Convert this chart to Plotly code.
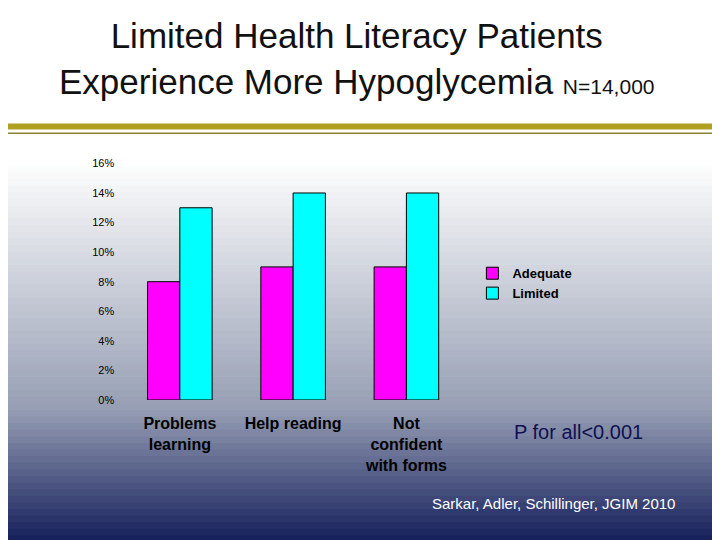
import plotly.graph_objects as go

categories = ["<b>Problems<br>learning</b>", "<b>Help reading</b>", "<b>Not<br>confident<br>with forms</b>"]
adequate = [8, 9, 9]
limited = [13, 14, 14]

fig = go.Figure()
fig.add_bar(x=categories, y=adequate, name="<b>Adequate</b>", marker=dict(color="#ff00ff", line=dict(color="black", width=1)))
fig.add_bar(x=categories, y=limited, name="<b>Limited</b>", marker=dict(color="#00ffff", line=dict(color="black", width=1)))

def lerp(a, b, t):
    return tuple(int(a[i] + (b[i] - a[i]) * t) for i in range(3))

shapes = []
N = 80
top = (255, 255, 255)
mid = (150, 158, 180)
bot = (20, 30, 90)
for i in range(N):
    y0 = i / N
    y1 = (i + 1) / N
    yc = 1 - (y0 + y1) / 2
    if yc < 0.28:
        c = top
    elif yc < 0.75:
        c = lerp(top, mid, (yc - 0.28) / 0.47)
    else:
        c = lerp(mid, bot, (yc - 0.75) / 0.25)
    shapes.append(dict(type="rect", xref="paper", yref="paper", x0=0, x1=1, y0=y0, y1=y1 + 0.002,
                       fillcolor="rgb(%d,%d,%d)" % c, line=dict(width=0), layer="below"))
shapes.append(dict(type="rect", xref="paper", yref="paper", x0=0, x1=1, y0=1 - 118/540, y1=1 - 112/540,
                   fillcolor="#b0a020", line=dict(width=0), layer="below"))
shapes.append(dict(type="line", xref="paper", yref="paper", x0=0, x1=1, y0=1 - 122/540, y1=1 - 122/540,
                   line=dict(color="#8a8030", width=1.5), layer="below"))

fig.update_layout(
    width=720, height=540, barmode="group", bargap=0.43, bargroupgap=0,
    paper_bgcolor="white", plot_bgcolor="rgba(0,0,0,0)",
    margin=dict(l=0, r=0, t=0, b=0),
    shapes=shapes,
    xaxis=dict(domain=[0.16, 0.632], showline=False, tickfont=dict(family="Liberation Sans", size=16, color="black"),
               ticks="", ticklabelstandoff=12),
    yaxis=dict(domain=[0.269, 0.717], range=[0, 16], dtick=2, ticksuffix="%", showgrid=False, zeroline=False,
               tickfont=dict(family="Liberation Sans", size=11, color="black"), ticklabelstandoff=8),
    legend=dict(x=0.645, y=0.49, xanchor="left", yanchor="middle", bgcolor="rgba(0,0,0,0)",
                font=dict(family="Liberation Sans", size=13, color="black"), tracegroupgap=2),
    font=dict(family="Liberation Sans"),
    annotations=[
        dict(text="Limited Health Literacy Patients<br>Experience More Hypoglycemia <span style='font-size:21px'>N=14,000</span>",
             x=0.485, y=1, xref="paper", yref="paper", xanchor="center", yanchor="top", showarrow=False,
             font=dict(size=35, color="#111"), align="center"),
        dict(text="P for all<0.001", x=570/720, y=1 - 441/540, xref="paper", yref="paper", xanchor="center",
             showarrow=False, font=dict(size=20, color="#101050")),
        dict(text="Sarkar, Adler, Schillinger, JGIM 2010", x=545/720, y=1 - 511/540, xref="paper", yref="paper",
             xanchor="center", showarrow=False, font=dict(size=15, color="white")),
    ],
)
fig.write_html("out.html")
